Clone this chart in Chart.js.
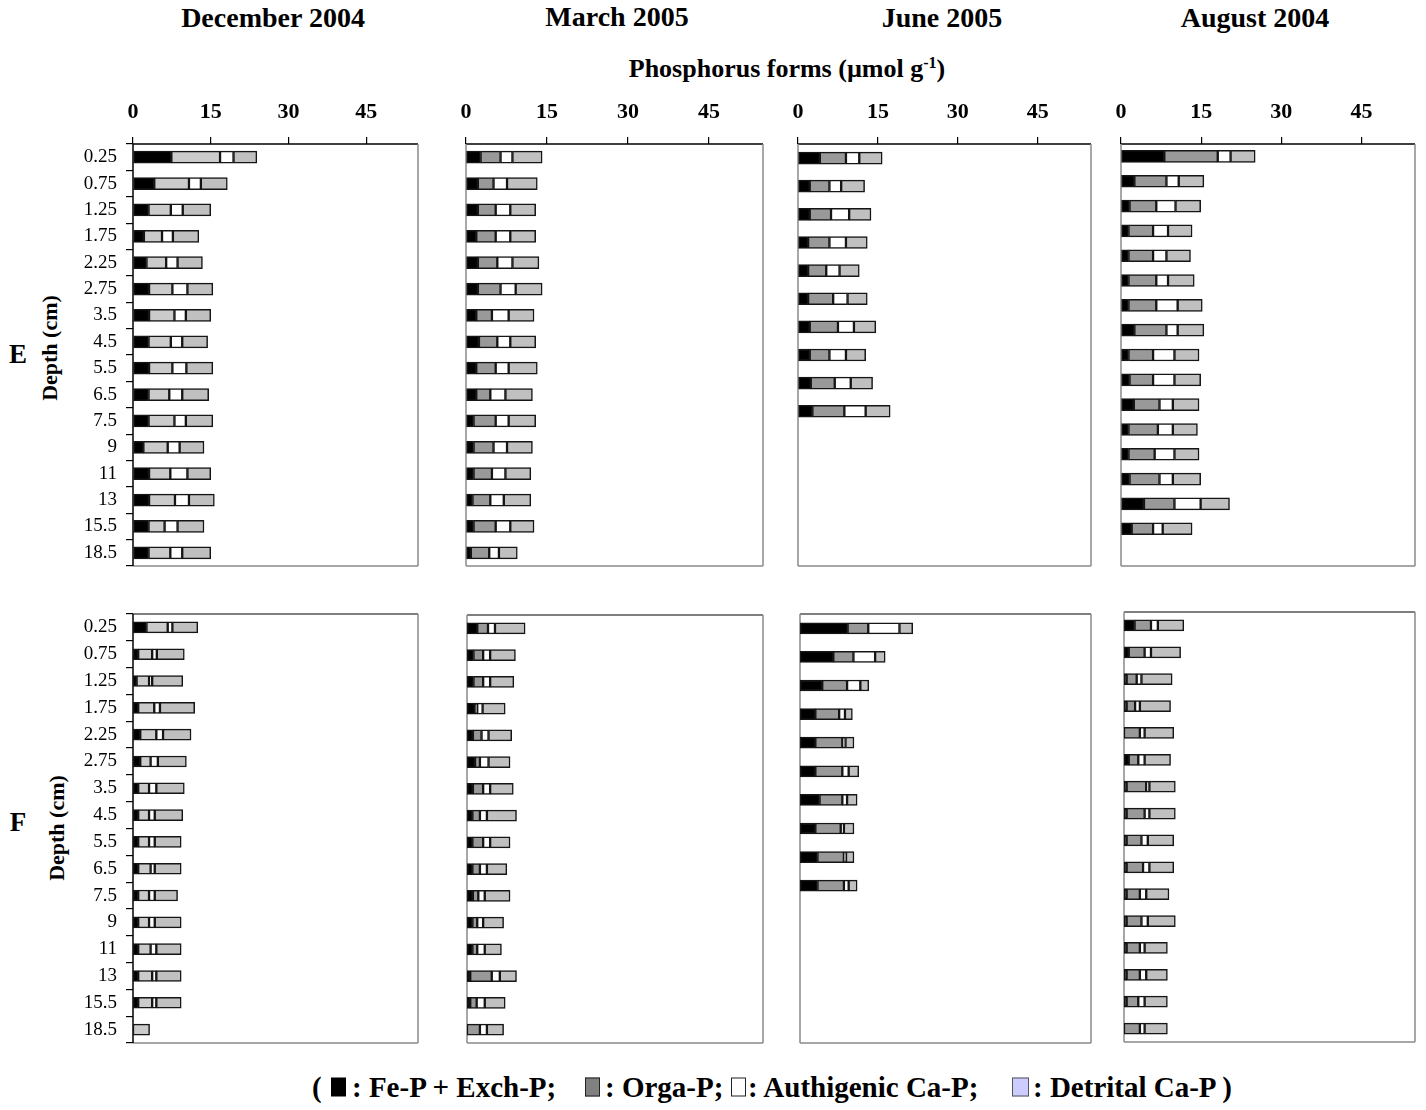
<!DOCTYPE html>
<html>
<head>
<meta charset="utf-8">
<script src="https://cdn.jsdelivr.net/npm/chart.js@4.4.1/dist/chart.umd.min.js"></script>
<style>
  html, body { margin:0; padding:0; background:#fff; }
  #wrap { position:relative; width:1426px; height:1110px; overflow:hidden; font-family:'Liberation Serif','Times New Roman',serif; color:#000; }
  canvas { position:absolute; }
  .t { position:absolute; font-weight:bold; white-space:nowrap; transform:translate(-50%,-50%); }
  .lg { position:absolute; font-weight:bold; font-size:29px; white-space:nowrap; top:1087px; transform:translateY(-50%); }
  .box { position:absolute; top:1087px; transform:translateY(-50%); box-sizing:border-box; }
  .rot { position:absolute; font-weight:bold; font-size:22px; white-space:nowrap; transform:translate(-50%,-50%) rotate(-90deg); }
</style>
</head>
<body>
<div id="wrap">
  <div class="t" style="left:273px;top:18px;font-size:28px;">December 2004</div>
  <div class="t" style="left:617px;top:17px;font-size:28px;">March 2005</div>
  <div class="t" style="left:942px;top:18px;font-size:28px;">June 2005</div>
  <div class="t" style="left:1255px;top:18px;font-size:28px;">August 2004</div>
  <div class="t" style="left:787px;top:69px;font-size:26px;">Phosphorus forms (µmol g<sup style="font-size:16px;">-1</sup>)</div>

  <div class="t" style="left:18px;top:354px;font-size:27px;">E</div>
  <div class="rot" style="left:50px;top:348px;">Depth (cm)</div>
  <div class="t" style="left:18px;top:822px;font-size:27px;">F</div>
  <div class="rot" style="left:57px;top:828px;">Depth (cm)</div>

  <div class="lg" style="left:312px;">(</div>
  <div class="box" style="left:331px;width:15px;height:19px;background:#000;"></div>
  <div class="lg" style="left:352px;">: Fe-P + Exch-P;</div>
  <div class="box" style="left:585px;width:15px;height:19px;background:#808080;border:1.5px solid #222;"></div>
  <div class="lg" style="left:605px;">: Orga-P;</div>
  <div class="box" style="left:731px;width:15px;height:19px;background:#fff;border:1.5px solid #222;"></div>
  <div class="lg" style="left:748px;">: Authigenic Ca-P;</div>
  <div class="box" style="left:1012px;width:17px;height:19px;background:#ccccff;border:1.5px solid #555;"></div>
  <div class="lg" style="left:1033px;">: Detrital Ca-P )</div>

  <canvas id="p1"></canvas>
  <canvas id="p2"></canvas>
  <canvas id="p3"></canvas>
  <canvas id="p4"></canvas>
  <canvas id="p5"></canvas>
  <canvas id="p6"></canvas>
  <canvas id="p7"></canvas>
  <canvas id="p8"></canvas>
</div>
<script>
// ---------- DATA ----------
const depthLabels = ['0.25','0.75','1.25','1.75','2.25','2.75','3.5','4.5','5.5','6.5','7.5','9','11','13','15.5','18.5'];
const juneLabels = ['0.25','0.75','1.25','1.75','2.25','2.75','3.5','4.5','5.5','6.5','','','','',''];
const augELabels = ['0.25','0.75','1.25','1.75','2.25','2.75','3.5','4.5','5.5','6.5','7.5','9','11','13','15.5','18.5',''];
const xTickValues = [0, 15, 30, 45];
const xMax = 55;

// Station E
const decE_fe   = [7.4,4.1,3.0,2.1,2.6,3.1,3.1,3.0,3.1,3.0,3.0,2.0,3.1,3.1,3.0,3.0];
const decE_orga = [9.4,6.7,4.3,3.5,3.8,4.5,4.9,4.3,4.5,4.0,5.0,4.7,4.1,5.0,3.1,4.2];
const decE_auth = [2.6,2.3,2.3,2.1,2.2,2.9,2.2,2.2,2.7,2.5,2.2,2.3,3.3,2.7,2.5,2.3];
const decE_det  = [4.5,5.1,5.4,5.0,4.8,4.9,4.8,4.9,5.1,5.1,5.2,4.7,4.5,4.9,5.1,5.5];

const marE_fe   = [2.7,2.2,2.2,1.9,2.2,2.2,1.9,2.4,1.9,1.9,1.4,1.4,1.4,1.2,1.4,0.9];
const marE_orga = [3.7,2.9,3.3,3.6,3.6,4.2,2.9,3.4,3.6,2.6,4.1,3.7,3.4,3.3,4.1,3.4];
const marE_auth = [2.2,2.5,2.7,2.7,2.8,2.8,3.1,2.4,2.4,2.8,2.4,2.5,2.5,2.5,2.7,1.8];
const marE_det  = [5.5,5.6,4.7,4.7,4.9,4.9,4.7,4.7,5.3,5.0,5.0,4.7,4.7,5.0,4.4,3.4];

const junE_fe   = [4.1,2.2,2.2,1.9,1.9,1.9,2.2,2.2,2.4,2.7];
const junE_orga = [4.9,3.7,4.0,4.0,3.4,4.7,5.3,3.7,4.5,6.0];
const junE_auth = [2.5,2.2,3.4,3.1,2.5,2.7,3.0,3.1,3.0,4.0];
const junE_det  = [4.3,4.4,4.1,4.0,3.7,3.7,4.1,3.7,4.1,4.6];

const augE_fe   = [8.1,2.5,1.6,1.4,1.4,1.4,1.4,2.5,1.4,1.6,2.4,1.4,1.4,1.6,4.3,2.0];
const augE_orga = [10.0,6.0,5.0,4.6,4.6,5.2,5.2,6.0,4.6,4.4,4.8,5.5,4.9,5.6,5.7,4.0];
const augE_auth = [2.4,2.3,3.6,2.8,2.5,2.2,4.0,2.1,4.0,4.0,2.5,2.8,3.7,2.5,4.9,1.8];
const augE_det  = [4.6,4.7,4.7,4.5,4.5,4.9,4.6,4.9,4.6,4.9,4.9,4.6,4.6,5.2,5.4,5.5];

// Station F
const decF_fe   = [2.6,1.0,0.7,1.0,1.4,1.4,1.0,1.0,1.0,1.0,1.0,1.0,1.0,1.0,1.0,0];
const decF_orga = [4.1,2.7,2.4,3.1,3.1,2.0,2.1,2.1,2.1,2.4,2.1,2.1,2.4,2.7,2.7,3.2];
const decF_auth = [0.9,0.9,0.6,1.1,1.3,1.4,1.4,1.1,1.1,0.8,1.1,1.1,1.1,0.8,0.8,0];
const decF_det  = [4.9,5.3,5.9,6.7,5.4,5.5,5.4,5.4,5.1,5.1,4.4,5.1,4.8,4.8,4.8,0];

const marF_fe   = [1.9,1.2,1.2,1.5,1.1,1.5,1.1,1.0,1.0,1.0,1.1,1.0,1.0,0.6,0.6,0];
const marF_orga = [2.0,1.8,1.8,0.4,1.6,0.9,1.9,1.4,2.0,1.4,1.0,0.9,0.9,4.0,1.2,2.4];
const marF_auth = [1.3,1.3,1.3,1.0,1.3,1.6,1.3,1.3,1.3,1.3,1.2,1.1,1.4,1.5,1.5,1.3];
const marF_det  = [5.6,4.7,4.4,4.2,4.3,4.0,4.3,5.5,3.7,3.7,4.7,3.8,3.1,3.1,3.8,3.1];

const junF_fe   = [9.0,6.3,4.2,2.9,2.9,2.9,3.7,2.9,3.3,3.3];
const junF_orga = [3.9,3.8,4.7,4.5,5.1,5.1,4.3,4.8,5.0,5.0];
const junF_auth = [5.9,4.1,2.5,1.1,0.6,1.2,0.9,0.6,0.4,0.9];
const junF_det  = [2.5,1.9,1.6,1.4,1.6,1.9,1.9,1.9,1.5,1.6];

const augF_fe   = [2.0,0.9,0.5,0.5,0,0.9,0.5,0.5,0.5,0.5,0.5,0.5,0.5,0.5,0.5,0];
const augF_orga = [3.1,3.0,1.9,1.6,3.0,1.8,3.7,3.4,2.8,3.1,2.5,2.8,2.5,2.5,2.2,3.0];
const augF_auth = [1.3,1.2,0.9,0.9,0.9,1.2,0.6,0.9,1.2,1.2,1.2,1.2,0.9,1.2,1.2,0.9];
const augF_det  = [4.9,5.6,5.8,5.8,5.5,4.9,4.9,4.9,4.9,4.6,4.3,5.2,4.3,4.0,4.3,4.3];

const seriesNames = ['Fe-P + Exch-P', 'Orga-P', 'Authigenic Ca-P', 'Detrital Ca-P'];

// ---------- LAYOUT ----------
const PAD = 2;
const framePlugin = {
  id: 'frame',
  beforeDatasetsDraw(chart, args, opts) {
    const a = chart.chartArea, c = chart.ctx;
    c.save();
    c.lineWidth = 1.5;
    const line = (x1,y1,x2,y2,col) => { c.strokeStyle = col; c.beginPath(); c.moveTo(x1,y1); c.lineTo(x2,y2); c.stroke(); };
    line(a.left, a.top, a.right, a.top, opts.topColor);
    line(a.right, a.top, a.right, a.bottom, '#8a8a8a');
    line(a.left, a.bottom, a.right, a.bottom, '#8a8a8a');
    line(a.left, a.top, a.left, a.bottom, opts.leftColor);
    c.restore();
  }
};

function zeroPad(s) { s.paddingLeft = 0; s.paddingRight = 0; s.paddingTop = 0; s.paddingBottom = 0; }

function makePanel(id, p) {
  const yW = p.showY ? 75 : 16;
  const xH = p.top ? 50 : 0;
  const cv = document.getElementById(id);
  const w = yW + (p.R - p.L) + PAD * 2;
  const h = xH + (p.B - p.T) + PAD * 2;
  cv.width = w; cv.height = h;
  cv.style.width = w + 'px'; cv.style.height = h + 'px';
  cv.style.left = (p.L - yW - PAD) + 'px';
  cv.style.top = (p.T - xH - PAD) + 'px';
  const colors = ['#000000', p.orgaColor, '#ffffff', '#c0c0c0'];
  const datasets = p.series.map((d, i) => ({
    label: seriesNames[i], data: d, backgroundColor: colors[i],
    borderColor: '#151515', borderWidth: 1.5, borderSkipped: false,
    barThickness: p.barH
  }));
  new Chart(cv, {
    type: 'bar',
    data: { labels: p.labels, datasets },
    options: {
      indexAxis: 'y', responsive: false, animation: false,
      layout: { padding: PAD },
      plugins: { legend: { display: false }, tooltip: { enabled: false },
                 frame: { topColor: p.top ? '#000' : '#555', leftColor: p.showY ? '#000' : '#8a8a8a' } },
      scales: {
        x: {
          stacked: true, position: 'top', min: 0, max: xMax,
          afterBuildTicks: s => { s.ticks = xTickValues.map(v => ({ value: v })); },
          ticks: { display: p.top, color: '#000', padding: 11, maxRotation: 0,
                   font: { family: 'Liberation Serif', size: 22, weight: 'bold' } },
          grid: { display: p.top, drawOnChartArea: false, tickLength: 7, color: '#000', lineWidth: 1.2 },
          border: { display: false },
          afterFit: s => { s.height = xH; zeroPad(s); }
        },
        y: {
          stacked: true,
          ticks: { display: p.showY, color: '#000', padding: 9, autoSkip: false,
                   font: { family: 'Liberation Serif', size: 19 } },
          grid: { display: p.showY, drawOnChartArea: false, tickLength: 7, color: '#000', lineWidth: 1.2, offset: true },
          border: { display: false },
          afterFit: s => { s.width = yW; zeroPad(s); }
        }
      }
    },
    plugins: [framePlugin]
  });
}

const lightOrga = '#cbcbcb', darkOrga = '#999999';
makePanel('p1', { L:133, R:418, T:144, B:566, top:true, showY:true, labels:depthLabels, orgaColor:lightOrga, barH:12,
  series:[decE_fe, decE_orga, decE_auth, decE_det] });
makePanel('p2', { L:466, R:763, T:144, B:566, top:true, showY:false, labels:depthLabels, orgaColor:darkOrga, barH:12,
  series:[marE_fe, marE_orga, marE_auth, marE_det] });
makePanel('p3', { L:798, R:1091, T:144, B:566, top:true, showY:false, labels:juneLabels, orgaColor:darkOrga, barH:12,
  series:[junE_fe, junE_orga, junE_auth, junE_det] });
makePanel('p4', { L:1121, R:1415, T:144, B:566, top:true, showY:false, labels:augELabels, orgaColor:darkOrga, barH:12,
  series:[augE_fe, augE_orga, augE_auth, augE_det] });

makePanel('p5', { L:133, R:418, T:614, B:1043, top:false, showY:true, labels:depthLabels, orgaColor:lightOrga, barH:11,
  series:[decF_fe, decF_orga, decF_auth, decF_det] });
makePanel('p6', { L:467, R:763, T:615, B:1043, top:false, showY:false, labels:depthLabels, orgaColor:darkOrga, barH:11,
  series:[marF_fe, marF_orga, marF_auth, marF_det] });
makePanel('p7', { L:800, R:1091, T:614, B:1043, top:false, showY:false, labels:juneLabels, orgaColor:darkOrga, barH:11,
  series:[junF_fe, junF_orga, junF_auth, junF_det] });
makePanel('p8', { L:1124, R:1415, T:612, B:1042, top:false, showY:false, labels:depthLabels, orgaColor:darkOrga, barH:11,
  series:[augF_fe, augF_orga, augF_auth, augF_det] });
</script>
</body>
</html>
